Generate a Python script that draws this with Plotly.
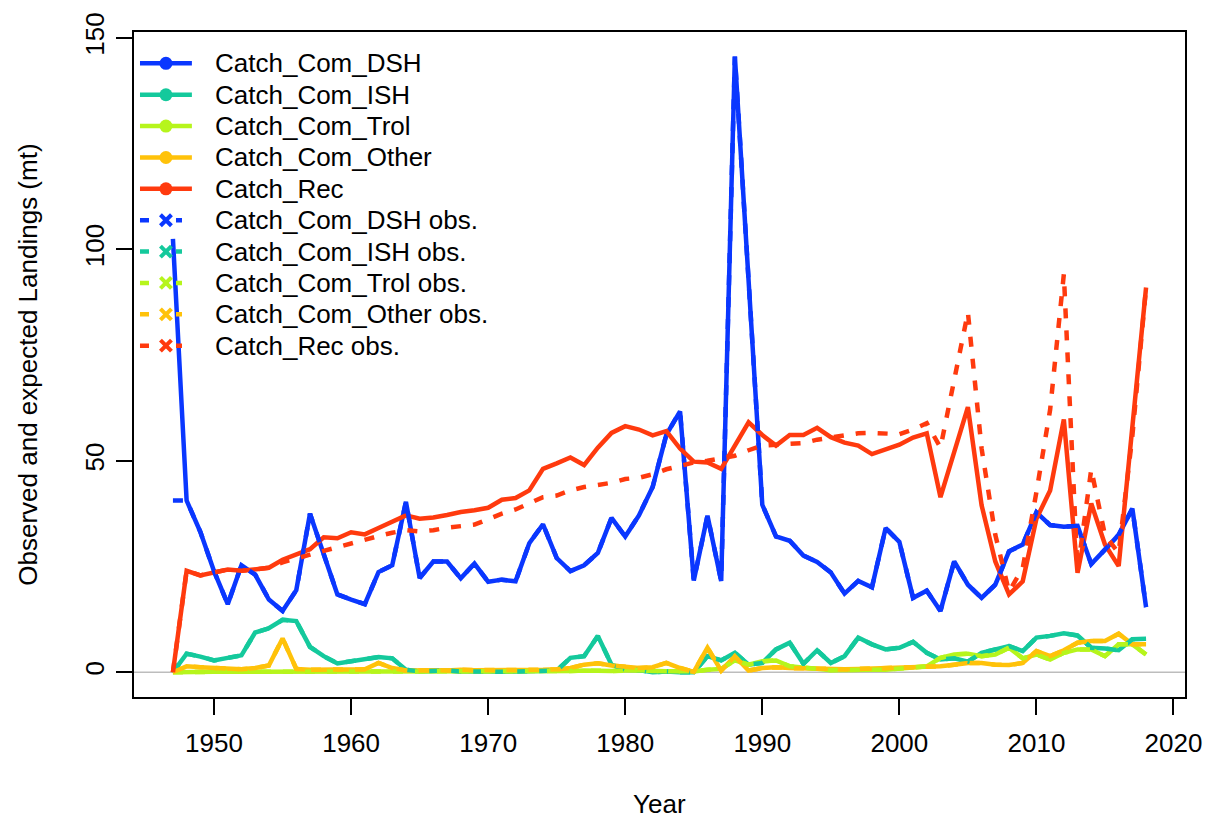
import plotly.graph_objects as go

# ---------------------------------------------------------------------------
# Landings by fleet, 1947-2018 (metric tons)
# ---------------------------------------------------------------------------
years = list(range(1947, 2019))

# Expected landings
catch_com_dsh = [
    102.5, 40.6, 33.2, 23.9, 16.1, 25.3, 23.1, 17.2, 14.5, 19.4,   # 1947-1956
    37.5, 28.2, 18.4, 17.2, 16.1, 23.7, 25.3, 40.3, 22.3, 26.2,    # 1957-1966
    26.2, 22.2, 25.7, 21.4, 21.9, 21.5, 30.5, 35.0, 27.0, 23.9,    # 1967-1976
    25.3, 28.2, 36.5, 32.1, 37.1, 43.8, 56.2, 61.7, 21.7, 37.0,    # 1977-1986
    21.6, 145.6, 92.5, 39.6, 32.1, 31.1, 27.6, 26.1, 23.6, 18.6,   # 1987-1996
    21.6, 20.1, 34.1, 30.8, 17.6, 19.3, 14.5, 26.2, 20.7, 17.6,    # 1997-2006
    20.7, 28.6, 30.2, 37.8, 34.8, 34.4, 34.6, 25.6, 29.0, 32.5,    # 2007-2016
    38.7, 15.4,                                                    # 2017-2018
]

catch_com_ish = [
    0.0, 4.4, 3.7, 2.8, 3.4, 4.0, 9.4, 10.4, 12.4, 12.1,
    6.0, 3.8, 2.1, 2.6, 3.0, 3.6, 3.3, 0.6, 0.2, 0.3,
    0.4, 0.2, 0.3, 0.2, 0.1, 0.2, 0.3, 0.2, 0.4, 3.4,
    3.8, 8.6, 1.8, 0.6, 0.5, 0.0, 0.2, 0.0, 0.0, 3.8,
    2.8, 4.6, 1.8, 2.2, 5.4, 7.0, 2.0, 5.2, 2.2, 3.8,
    8.2, 6.6, 5.4, 5.8, 7.2, 4.6, 3.0, 3.3, 2.5, 4.6,
    5.4, 6.2, 5.0, 8.2, 8.6, 9.2, 8.7, 5.8, 5.6, 5.2,
    7.8, 7.9,
]

catch_com_trol = [
    0.0, 0.1, 0.1, 0.1, 0.1, 0.1, 0.1, 0.1, 0.1, 0.1,
    0.1, 0.1, 0.1, 0.1, 0.1, 0.1, 0.1, 0.1, 0.1, 0.1,
    0.1, 0.1, 0.1, 0.1, 0.1, 0.1, 0.1, 0.1, 0.1, 0.3,
    0.4, 0.3, 0.3, 0.4, 0.5, 0.3, 0.3, 0.2, 0.2, 0.6,
    0.8, 2.8, 1.8, 2.6, 2.8, 1.4, 1.0, 0.8, 0.5, 0.6,
    0.5, 0.6, 0.6, 0.8, 1.0, 1.4, 3.4, 4.2, 4.4, 3.8,
    4.2, 5.8, 3.3, 4.2, 3.0, 4.6, 5.4, 5.4, 3.8, 6.6,
    6.6, 4.2,
]

catch_com_other = [
    0.0, 1.4, 1.2, 1.0, 0.9, 0.7, 1.0, 1.6, 8.0, 0.8,
    0.6, 0.6, 0.6, 0.6, 0.7, 2.2, 1.0, 0.4, 0.5, 0.5,
    0.4, 0.6, 0.5, 0.5, 0.4, 0.5, 0.5, 0.6, 0.7, 1.0,
    1.8, 2.1, 1.6, 1.3, 1.0, 1.2, 2.2, 1.0, 0.1, 5.8,
    0.4, 3.8, 0.4, 1.0, 1.2, 1.0, 0.9, 0.8, 0.6, 0.7,
    0.8, 0.9, 0.9, 1.0, 1.1, 1.2, 1.4, 1.8, 2.2, 2.2,
    1.8, 1.7, 2.2, 5.0, 3.8, 5.2, 7.0, 7.4, 7.4, 9.1,
    6.6, 6.6,
]

catch_rec = [
    0.0, 24.0, 22.9, 23.5, 24.3, 24.0, 24.3, 24.7, 26.6, 27.9,
    29.1, 31.9, 31.7, 33.1, 32.6, 34.1, 35.5, 37.1, 36.3, 36.6,
    37.2, 37.9, 38.3, 38.9, 40.8, 41.2, 43.0, 48.1, 49.4, 50.8,
    49.0, 53.1, 56.6, 58.2, 57.4, 56.0, 57.0, 52.9, 49.8, 49.6,
    48.1, 53.6, 59.1, 56.1, 53.6, 56.1, 56.1, 57.8, 55.6, 54.3,
    53.6, 51.6, 52.6, 53.8, 55.5, 56.5, 41.4, 51.9, 62.7, 39.5,
    26.2, 18.4, 21.5, 36.3, 43.0, 59.8, 23.5, 39.9, 30.2, 25.1,
    57.0, 91.0,
]

# Observed landings
catch_com_dsh_obs = [
    40.6, 40.6, 33.2, 23.9, 16.1, 25.3, 23.1, 17.2, 14.5, 19.4,
    37.5, 28.2, 18.4, 17.2, 16.1, 23.7, 25.3, 40.3, 22.3, 26.2,
    26.2, 22.2, 25.7, 21.4, 21.9, 21.5, 30.5, 35.0, 27.0, 23.9,
    25.3, 28.2, 36.5, 32.1, 37.1, 43.8, 56.2, 61.7, 21.7, 37.0,
    21.6, 145.6, 92.5, 39.6, 32.1, 31.1, 27.6, 26.1, 23.6, 18.6,
    21.6, 20.1, 34.1, 30.8, 17.6, 19.3, 14.5, 26.2, 20.7, 17.6,
    20.7, 28.6, 30.2, 37.8, 34.8, 34.4, 34.6, 25.6, 29.0, 32.5,
    38.7, 15.4,
]
catch_com_ish_obs = list(catch_com_ish)
catch_com_trol_obs = list(catch_com_trol)
catch_com_other_obs = list(catch_com_other)

catch_rec_obs = [
    0.0, 24.0, 22.9, 23.5, 24.3, 24.0, 24.3, 24.7, 26.0, 26.8,
    27.8, 28.7, 29.6, 30.6, 31.4, 32.2, 33.0, 33.6, 33.3, 33.6,
    34.2, 34.5, 34.9, 36.2, 37.5, 38.5, 40.0, 41.4, 41.8, 43.0,
    43.8, 44.4, 44.8, 45.7, 46.0, 46.8, 48.0, 48.8, 49.6, 50.0,
    50.5, 51.2, 52.5, 53.6, 53.8, 54.0, 54.2, 55.0, 55.5, 56.0,
    56.5, 56.6, 56.5, 56.3, 57.4, 58.9, 53.1, 69.0, 85.1, 52.9,
    32.5, 19.1, 24.6, 42.6, 62.1, 94.1, 24.0, 48.0, 32.4, 28.2,
    55.9, 91.0,
]

fleet_names = ["Catch_Com_DSH", "Catch_Com_ISH", "Catch_Com_Trol",
               "Catch_Com_Other", "Catch_Rec"]
fleet_colors = ["#0a37ff", "#14c99c", "#b6f51c", "#ffc20a", "#ff3a0e"]
expected = [catch_com_dsh, catch_com_ish, catch_com_trol, catch_com_other, catch_rec]
observed = [catch_com_dsh_obs, catch_com_ish_obs, catch_com_trol_obs,
            catch_com_other_obs, catch_rec_obs]

FONT = "Liberation Sans, Arial, sans-serif"
FS = 26
LW = 4.5
DOTTED = "10px,12px"

# page geometry (pixels) of the plotting frame
W, H = 1214, 825
ML, MR, MT, MB = 134, 27, 25, 128
PW, PH = W - ML - MR, H - MT - MB


def px_to_paper_x(px):
    return (px - ML) / PW


def px_to_paper_y(py):
    return (H - MB - py) / PH


fig = go.Figure()

# expected series: solid lines
for vals, col in zip(expected, fleet_colors):
    fig.add_trace(go.Scatter(
        x=years, y=vals, mode="lines",
        line=dict(color=col, width=LW),
        showlegend=False, hoverinfo="skip",
    ))

# observed series: dotted lines on top
for vals, col in zip(observed, fleet_colors):
    fig.add_trace(go.Scatter(
        x=years, y=vals, mode="lines",
        line=dict(color=col, width=LW, dash=DOTTED),
        showlegend=False, hoverinfo="skip",
    ))

# zero reference line
fig.add_shape(type="line", xref="paper", x0=0, x1=1, yref="y", y0=0, y1=0,
              line=dict(color="#bdbdbd", width=1.5), layer="below")

# legend (top-left, no box): line keys with a circle for expected,
# dotted keys with a cross for observed
LEG_TOP, LEG_STEP = 56.7, 31.7
KEY_X0, KEY_X1, KEY_MID, TEXT_X = 140, 192, 166, 213
labels = fleet_names + [n + " obs." for n in fleet_names]
for i, label in enumerate(labels):
    col = fleet_colors[i % 5]
    is_obs = i >= 5
    yp = px_to_paper_y(LEG_TOP + LEG_STEP * i)
    fig.add_shape(type="line", xref="paper", yref="paper",
                  x0=px_to_paper_x(KEY_X0), x1=px_to_paper_x(KEY_X1), y0=yp, y1=yp,
                  line=dict(color=col, width=LW, dash="9px,27px,6px,12px" if is_obs else "solid"))
    xm = px_to_paper_x(KEY_MID)
    if is_obs:
        for s in (1, -1):
            fig.add_shape(type="line", xref="paper", yref="paper",
                          xsizemode="pixel", ysizemode="pixel", xanchor=xm, yanchor=yp,
                          x0=-5.5, x1=5.5, y0=-5.5 * s, y1=5.5 * s,
                          line=dict(color=col, width=4))
    else:
        fig.add_shape(type="circle", xref="paper", yref="paper",
                      xsizemode="pixel", ysizemode="pixel", xanchor=xm, yanchor=yp,
                      x0=-6.5, x1=6.5, y0=-6.5, y1=6.5,
                      fillcolor=col, line=dict(width=0))
    fig.add_annotation(text=label, xref="paper", yref="paper",
                       x=px_to_paper_x(TEXT_X), y=yp, xanchor="left", yanchor="middle",
                       showarrow=False, font=dict(family=FONT, size=FS, color="black"))

fig.add_annotation(text="Year", xref="paper", yref="paper", x=0.5, y=px_to_paper_y(805),
                   xanchor="center", yanchor="middle", showarrow=False,
                   font=dict(family=FONT, size=FS, color="black"))
fig.add_annotation(text="Observed and expected Landings (mt)", xref="paper",
                   yref="paper", x=px_to_paper_x(27), y=0.5, textangle=-90,
                   xanchor="center", yanchor="middle", showarrow=False,
                   font=dict(family=FONT, size=FS, color="black"))

fig.update_layout(
    width=W, height=H,
    margin=dict(l=ML, r=MR, t=MT, b=MB),
    paper_bgcolor="white", plot_bgcolor="white",
    font=dict(family=FONT, size=FS, color="black"),
    xaxis=dict(
        range=[1944.16, 2020.84], tickvals=[1950, 1960, 1970, 1980, 1990, 2000, 2010, 2020],
        ticks="outside", ticklen=16, tickwidth=1.5, tickcolor="black",
        showline=True, mirror=True, linecolor="black", linewidth=1.5,
        showgrid=False, zeroline=False, ticklabelstandoff=6,
        tickfont=dict(family=FONT, size=FS),
    ),
    yaxis=dict(
        range=[-5.85, 151.4], tickvals=[0, 50, 100, 150], tickangle=-90,
        ticks="outside", ticklen=16, tickwidth=1.5, tickcolor="black",
        showline=True, mirror=True, linecolor="black", linewidth=1.5,
        showgrid=False, zeroline=False, ticklabelstandoff=2,
        tickfont=dict(family=FONT, size=FS),
    ),
    showlegend=False,
)

fig.write_html("out.html")
